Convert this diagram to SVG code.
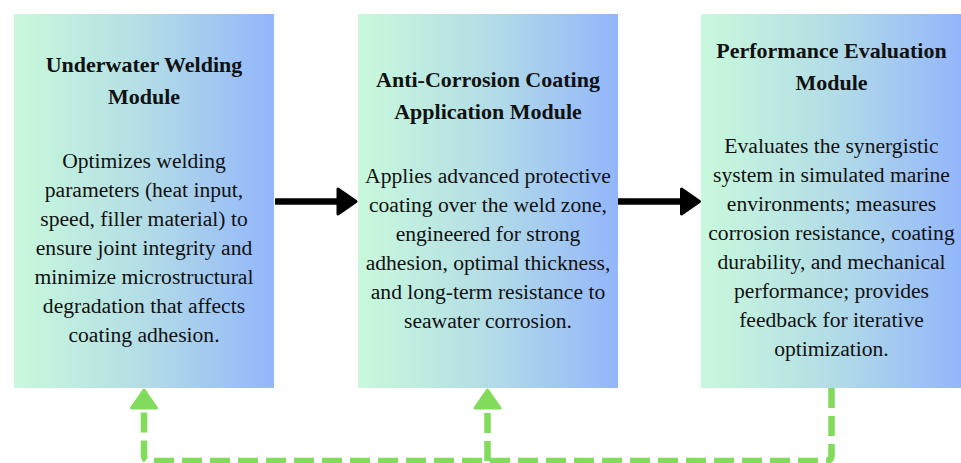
<svg xmlns="http://www.w3.org/2000/svg" width="961" height="463" viewBox="0 0 961 463">
  <defs>
    <linearGradient id="moduleFill" x1="0" y1="0" x2="1" y2="0">
      <stop offset="0" stop-color="#c9f9dc"/>
      <stop offset="0.5" stop-color="#b3dde6"/>
      <stop offset="1" stop-color="#93b6fb"/>
    </linearGradient>
    <marker id="headBlack" markerUnits="userSpaceOnUse" orient="auto" overflow="visible" markerWidth="1" markerHeight="1" refX="0" refY="0">
      <path d="M 0 -12.5 L 18 0 L 0 12.5 Z" fill="#000" stroke="#000" stroke-width="3" stroke-linejoin="round"/>
    </marker>
    <marker id="headGreen" markerUnits="userSpaceOnUse" orient="auto" overflow="visible" markerWidth="1" markerHeight="1" refX="0" refY="0">
      <path d="M 0 -12.5 L 18 0 L 0 12.5 Z" fill="#80dc5a" stroke="#80dc5a" stroke-width="3" stroke-linejoin="round"/>
    </marker>
  </defs>
  <style>
    .box { fill: url(#moduleFill); }
    text { font-family: 'Liberation Serif', 'DejaVu Serif', 'Times New Roman', serif; fill: #111; text-anchor: middle; }
    .title { font-weight: bold; font-size: 22px; }
    .body { font-size: 21.6px; }
    .flow { fill: none; stroke: #000; stroke-width: 6.5; marker-end: url(#headBlack); }
    .feedback { fill: none; stroke: #80dc5a; stroke-width: 6.5; stroke-dasharray: 20 8; marker-end: url(#headGreen); }
  </style>

  <rect width="961" height="463" fill="#fff"/>

  <g id="welding" font-family="Liberation Serif">
    <rect class="box" x="14" y="14" width="260" height="374"/>
    <text class="title" x="144" y="72">Underwater Welding</text>
    <text class="title" x="144" y="104">Module</text>
    <text class="body" x="144" y="168">Optimizes welding</text>
    <text class="body" x="144" y="197">parameters (heat input,</text>
    <text class="body" x="144" y="226">speed, filler material) to</text>
    <text class="body" x="144" y="255">ensure joint integrity and</text>
    <text class="body" x="144" y="284">minimize microstructural</text>
    <text class="body" x="144" y="313">degradation that affects</text>
    <text class="body" x="144" y="342">coating adhesion.</text>
  </g>

  <g id="coating" font-family="Liberation Serif">
    <rect class="box" x="358" y="14" width="260" height="374"/>
    <text class="title" x="488" y="86.5">Anti-Corrosion Coating</text>
    <text class="title" x="488" y="118.5">Application Module</text>
    <text class="body" x="488" y="182.5">Applies advanced protective</text>
    <text class="body" x="488" y="211.5">coating over the weld zone,</text>
    <text class="body" x="488" y="240.5">engineered for strong</text>
    <text class="body" x="488" y="269.5">adhesion, optimal thickness,</text>
    <text class="body" x="488" y="298.5">and long-term resistance to</text>
    <text class="body" x="488" y="327.5">seawater corrosion.</text>
  </g>

  <g id="evaluation" font-family="Liberation Serif">
    <rect class="box" x="701" y="14" width="260" height="374"/>
    <text class="title" x="831.5" y="57.5">Performance Evaluation</text>
    <text class="title" x="831.5" y="89.5">Module</text>
    <text class="body" x="831.5" y="152.5">Evaluates the synergistic</text>
    <text class="body" x="831.5" y="181.5">system in simulated marine</text>
    <text class="body" x="831.5" y="210.5">environments; measures</text>
    <text class="body" x="831.5" y="239.5">corrosion resistance, coating</text>
    <text class="body" x="831.5" y="268.5">durability, and mechanical</text>
    <text class="body" x="831.5" y="297.5">performance; provides</text>
    <text class="body" x="831.5" y="326.5">feedback for iterative</text>
    <text class="body" x="831.5" y="355.5">optimization.</text>
  </g>

  <g id="connectors">
    <path class="flow" d="M 275 201.5 H 338"/>
    <path class="flow" d="M 618 201.5 H 681.5"/>
    <path class="feedback" d="M 831.5 388 V 455 Q 831.5 461 825.5 461 H 150 Q 144 461 144 455 V 408"/>
    <path class="feedback" d="M 487.5 461 V 408"/>
  </g>
</svg>
